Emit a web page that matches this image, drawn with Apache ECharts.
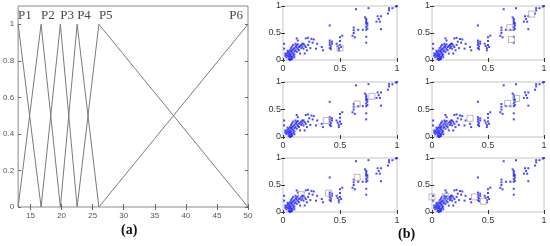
<!DOCTYPE html>
<html><head><meta charset="utf-8">
<script src="https://cdn.jsdelivr.net/npm/echarts@6/dist/echarts.min.js"></script>
<style>html,body{margin:0;padding:0;background:#fff}#c{width:550px;height:246px}</style>
</head><body><div id="c"></div>
<script>
// ---- Data ----
const mfNames = ['P1', 'P2', 'P3', 'P4', 'P5', 'P6'];
const mfPeaks = [13, 16.7, 19.8, 22.5, 26, 50];
const mfTicksX = [15, 20, 25, 30, 35, 40, 45, 50];
const mfTicksY = [0, 0.2, 0.4, 0.6, 0.8, 1];
const scTicks = [0, 0.5, 1];

const samplePoints = [
  [0.01,0.30],[0.01,0.21],[0.02,0.12],[0.03,0.10],[0.04,0.08],[0.05,0.06],[0.06,0.03],[0.07,0.01],
  [0.05,0.15],[0.06,0.12],[0.07,0.10],[0.08,0.14],[0.08,0.18],[0.09,0.20],[0.10,0.22],[0.10,0.16],
  [0.11,0.25],[0.12,0.23],[0.12,0.27],[0.13,0.20],[0.14,0.24],[0.15,0.26],[0.06,0.18],[0.07,0.22],
  [0.04,0.13],[0.03,0.05],[0.08,0.05],[0.09,0.08],[0.05,0.02],[0.02,0.08],[0.06,0.08],[0.07,0.16],
  [0.09,0.12],[0.10,0.10],[0.11,0.18],[0.12,0.15],[0.13,0.29],[0.14,0.18],[0.16,0.22],[0.16,0.28],
  [0.17,0.25],[0.18,0.21],[0.19,0.27],[0.20,0.24],[0.18,0.30],[0.05,0.10],[0.04,0.17],[0.08,0.25],
  [0.09,0.28],[0.07,0.06],[0.06,0.00],[0.08,0.02],[0.10,0.05],[0.11,0.30],
  [0.13,0.36],[0.12,0.40],[0.20,0.40],[0.22,0.41],[0.25,0.39],[0.17,0.30],[0.26,0.32],[0.19,0.12],
  [0.21,0.18],[0.29,0.21],[0.34,0.24],[0.35,0.18],[0.30,0.30],[0.23,0.34],[0.27,0.38],[0.24,0.22],
  [0.15,0.12],[0.22,0.28],
  [0.41,0.64],[0.41,0.36],[0.41,0.32],[0.41,0.28],[0.42,0.25],[0.41,0.22],[0.42,0.20],[0.43,0.30],[0.43,0.34],
  [0.47,0.30],[0.48,0.26],[0.49,0.22],[0.50,0.42],[0.50,0.35],[0.50,0.28],[0.51,0.24],[0.52,0.45],[0.49,0.18],
  [0.62,0.55],[0.62,0.50],[0.61,0.45],[0.63,0.42],[0.66,0.56],[0.70,0.56],[0.64,0.94],[0.62,0.60],
  [0.73,0.76],[0.73,0.73],[0.73,0.70],[0.73,0.67],[0.74,0.64],[0.73,0.61],[0.74,0.58],[0.73,0.56],
  [0.72,0.79],[0.73,0.43],[0.73,0.32],[0.75,0.96],[0.74,0.68],
  [0.83,0.81],[0.86,0.81],[0.82,0.71],[0.85,0.71],[0.86,0.57],[0.84,0.76],[0.92,0.86],[0.93,0.96],
  [0.96,0.96],[0.93,0.92],[0.99,0.99],[1.00,1.00]
];

const centers1 = [[0.50,0.22]];
const centers2 = [[0.695,0.60],[0.71,0.38],[0.89,0.85]];
const centers3 = [[0.65,0.60],[0.78,0.74],[0.38,0.30]];
const centers4 = [[0.755,0.70],[0.675,0.61],[0.34,0.34],[0.12,0.20]];
const centers5 = [[0.65,0.64],[0.40,0.35],[0.16,0.32]];
const centers6 = [[0.00,0.28],[0.12,0.29],[0.38,0.28],[0.46,0.20]];
const centerSets = [centers1, centers2, centers3, centers4, centers5, centers6];

// ---- Build option ----
const grids = [], xAxes = [], yAxes = [], series = [];

// Left panel
grids.push({left: 16, top: 6, width: 232, height: 201, show: true, borderColor: '#8a8a8a', borderWidth: 1});
const lblL = {fontSize: 8, color: '#555', fontFamily: 'Arial, Liberation Sans'};
xAxes.push({type: 'value', gridIndex: 0, min: 13, max: 50, position: 'bottom',
  axisLine: {show: false}, splitLine: {show: false},
  axisTick: {inside: true, length: 3, lineStyle: {color: '#666'}, customValues: mfTicksX},
  axisLabel: Object.assign({margin: 5, customValues: mfTicksX}, lblL)});
xAxes.push({type: 'value', gridIndex: 0, min: 13, max: 50, position: 'top',
  axisLine: {show: false}, splitLine: {show: false},
  axisTick: {inside: true, length: 3, lineStyle: {color: '#666'}, customValues: mfTicksX},
  axisLabel: {show: false}});
yAxes.push({type: 'value', gridIndex: 0, min: 0, max: 1.1, position: 'left',
  axisLine: {show: false}, splitLine: {show: false},
  axisTick: {inside: true, length: 3, lineStyle: {color: '#666'}, customValues: mfTicksY},
  axisLabel: Object.assign({margin: 4, customValues: mfTicksY}, lblL)});
yAxes.push({type: 'value', gridIndex: 0, min: 0, max: 1.1, position: 'right',
  axisLine: {show: false}, splitLine: {show: false},
  axisTick: {inside: true, length: 3, lineStyle: {color: '#666'}, customValues: mfTicksY},
  axisLabel: {show: false}});

mfPeaks.forEach((p, i) => {
  const d = [];
  if (i > 0) d.push([mfPeaks[i - 1], 0]);
  d.push([p, 1]);
  if (i < mfPeaks.length - 1) d.push([mfPeaks[i + 1], 0]);
  series.push({type: 'line', xAxisIndex: 0, yAxisIndex: 0, data: d, symbol: 'none',
    lineStyle: {color: '#7a7a7a', width: 1}, silent: true, animation: false});
});
series.push({type: 'scatter', xAxisIndex: 0, yAxisIndex: 0, symbolSize: 0, animation: false,
  data: mfPeaks.map((p, i) => ({value: [p, 1.048], name: mfNames[i],
    label: {position: i === mfPeaks.length - 1 ? 'left' : 'right', distance: i === mfPeaks.length - 1 ? 5 : 0}})),
  label: {show: true, formatter: '{b}', fontFamily: 'Liberation Serif, Times New Roman, serif', fontSize: 13, color: '#111'}});

// Right panel: 6 scatter subplots
const cols = [{left: 283, width: 114}, {left: 432, width: 112}];
const rows = [{top: 6, height: 54}, {top: 82, height: 55}, {top: 158, height: 54}];
const lblS = {fontSize: 9, color: '#333', fontFamily: 'Arial, Liberation Sans'};
let k = 0;
for (let r = 0; r < 3; r++) {
  for (let c = 0; c < 2; c++) {
    const gi = grids.length;
    grids.push({left: cols[c].left, width: cols[c].width, top: rows[r].top, height: rows[r].height,
      show: true, borderColor: '#c4c4c4', borderWidth: 1});
    const tick = {inside: true, length: 2, lineStyle: {color: '#333'}, customValues: scTicks};
    const xi = xAxes.length, yi = yAxes.length;
    xAxes.push({type: 'value', gridIndex: gi, min: 0, max: 1, position: 'bottom',
      axisLine: {show: false}, splitLine: {show: false}, axisTick: tick,
      axisLabel: Object.assign({margin: 4, customValues: scTicks}, lblS)});
    xAxes.push({type: 'value', gridIndex: gi, min: 0, max: 1, position: 'top',
      axisLine: {show: false}, splitLine: {show: false}, axisTick: tick, axisLabel: {show: false}});
    yAxes.push({type: 'value', gridIndex: gi, min: 0, max: 1, position: 'left',
      axisLine: {show: false}, splitLine: {show: false}, axisTick: tick,
      axisLabel: Object.assign({margin: 2, customValues: scTicks}, lblS)});
    yAxes.push({type: 'value', gridIndex: gi, min: 0, max: 1, position: 'right',
      axisLine: {show: false}, splitLine: {show: false}, axisTick: tick, axisLabel: {show: false}});
    series.push({type: 'scatter', xAxisIndex: xi, yAxisIndex: yi, data: samplePoints,
      symbol: 'rect', symbolSize: 2, itemStyle: {color: '#1a1aff'}, silent: true, animation: false});
    series.push({type: 'scatter', xAxisIndex: xi, yAxisIndex: yi, data: centerSets[k],
      symbol: 'rect', symbolSize: 6,
      itemStyle: {color: 'rgba(0,0,0,0)', borderColor: '#aaaaaa', borderWidth: 1}, silent: true, animation: false});
    k++;
  }
}

const option = {
  backgroundColor: '#fff',
  animation: false,
  grid: grids, xAxis: xAxes, yAxis: yAxes, series: series,
  graphic: [
    {type: 'text', left: 121, top: 223, style: {text: '(a)', font: 'bold 14px "Liberation Serif", serif', fill: '#111'}},
    {type: 'text', left: 398, top: 227, style: {text: '(b)', font: 'bold 14px "Liberation Serif", serif', fill: '#111'}}
  ]
};
const chart = echarts.init(document.getElementById('c'));
chart.setOption(option);
</script>
</body></html>
